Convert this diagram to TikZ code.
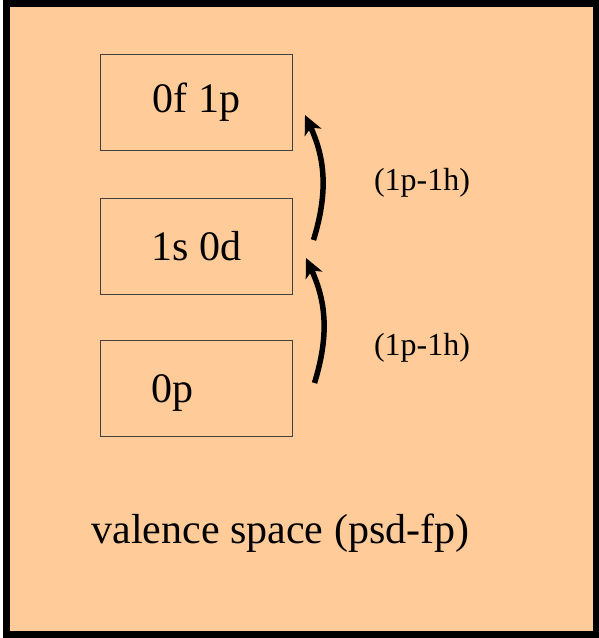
\documentclass[tikz,border=0pt]{standalone}
\usepackage{fontspec}
\setmainfont{Liberation Serif}
\usetikzlibrary{arrows.meta}
\definecolor{peach}{HTML}{FFCC99}
\definecolor{boxline}{HTML}{404040}

\begin{document}
\begin{tikzpicture}[x=1pt, y=-1pt,
    levelbox/.style={rectangle, draw=boxline, line width=0.9pt, minimum width=192pt, minimum height=96pt, inner sep=0pt, font=\fontsize{42}{46}\selectfont},
    ladder/.style={line width=5.5pt, -{Stealth[length=19pt, width=18pt, inset=5pt]}},
    excite/.style={font=\fontsize{32}{36}\selectfont}]
        \useasboundingbox (0,0) rectangle (599,638);
        \draw[line width=7pt, fill=peach] (6.5,3.5) rectangle (596,634.5);

        \node[levelbox] (fp) at (196.3,102.2) {0f 1p};

        \node[levelbox] (sd) at (196.3,246) {1s 0d};

        \node[levelbox, label={[xshift=-24pt, yshift=-5pt, font=\fontsize{42}{46}\selectfont]center:0p}] (p) at (196.5,388.4) {};

        \coordinate (t1) at (314.5,383);
        \coordinate (h1) at (306,258);
        \coordinate (t2) at (313.5,240);
        \coordinate (h2) at (305,115);

        \draw[ladder] (t1) to[bend right=21] (h1);
        \draw[ladder] (t2) to[bend right=21] (h2);

        \node[excite] (x1) at (422,348) {(1p-1h)};
        \node[excite] (x2) at (422,183) {(1p-1h)};

        \node[font=\fontsize{42}{46}\selectfont, anchor=base west] (vs) at (88,543) {valence space (psd-fp)};
      \end{tikzpicture}
\end{document}
